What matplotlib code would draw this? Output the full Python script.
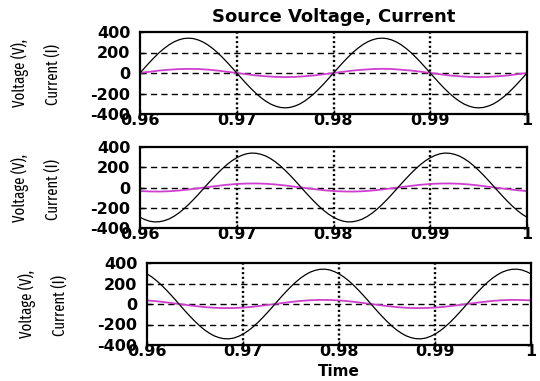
import numpy as np
import matplotlib
matplotlib.use("Agg")
import matplotlib.pyplot as plt

# ---------------- data ----------------
time_v = [round(0.96 + i * 0.0005, 4) for i in range(81)]
time_i = [round(0.96 + i * 0.001, 3) for i in range(41)]

volt_a = [0, 53, 105, 154, 200, 240, 275, 303, 323, 336, 340,
          336, 323, 303, 275, 240, 200, 154, 105, 53, 0,
          -53, -105, -154, -200, -240, -275, -303, -323, -336, -340,
          -336, -323, -303, -275, -240, -200, -154, -105, -53, 0,
          53, 105, 154, 200, 240, 275, 303, 323, 336, 340,
          336, 323, 303, 275, 240, 200, 154, 105, 53, 0,
          -53, -105, -154, -200, -240, -275, -303, -323, -336, -340,
          -336, -323, -303, -275, -240, -200, -154, -105, -53, 0]

volt_b = [-294, -317, -333, -340, -338, -328, -311, -285, -253, -214, -170,
          -122, -71, -18, 36, 88, 138, 185, 227, 264, 294,
          317, 333, 340, 338, 328, 311, 285, 253, 214, 170,
          122, 71, 18, -36, -88, -138, -185, -227, -264, -294,
          -317, -333, -340, -338, -328, -311, -285, -253, -214, -170,
          -122, -71, -18, 36, 88, 138, 185, 227, 264, 294,
          317, 333, 340, 338, 328, 311, 285, 253, 214, 170,
          122, 71, 18, -36, -88, -138, -185, -227, -264, -294]

volt_c = [294, 264, 227, 185, 138, 88, 36, -18, -71, -122, -170,
          -214, -253, -285, -311, -328, -338, -340, -333, -317, -294,
          -264, -227, -185, -138, -88, -36, 18, 71, 122, 170,
          214, 253, 285, 311, 328, 338, 340, 333, 317, 294,
          264, 227, 185, 138, 88, 36, -18, -71, -122, -170,
          -214, -253, -285, -311, -328, -338, -340, -333, -317, -294,
          -264, -227, -185, -138, -88, -36, 18, 71, 122, 170,
          214, 253, 285, 311, 328, 338, 340, 333, 317, 294]

curr_a = [2, 12, 24, 32, 38, 40, 39, 33, 24, 12, 0,
          -12, -24, -32, -38, -40, -38, -32, -24, -12, 0,
          12, 24, 32, 38, 41, 39, 32, 24, 13, 0,
          -12, -24, -32, -38, -40, -38, -32, -24, -12, 0]

curr_b = [-35, -39, -40, -37, -30, -20, -8, 4, 16, 27, 35,
          39, 40, 37, 30, 20, 8, -4, -16, -27, -35,
          -39, -40, -37, -30, -20, -8, 4, 16, 27, 35,
          39, 40, 37, 30, 20, 8, -4, -16, -27, -35]

curr_c = [35, 27, 16, 4, -8, -20, -30, -37, -40, -39, -35,
          -27, -16, -4, 8, 20, 30, 37, 40, 39, 35,
          27, 16, 4, -8, -20, -30, -37, -40, -39, -35,
          -27, -16, -4, 8, 20, 30, 37, 40, 39, 35]

x_ticks = [0.96, 0.97, 0.98, 0.99, 1.0]
x_tick_labels = ["0.96", "0.97", "0.98", "0.99", "1"]
y_ticks = [-400, -200, 0, 200, 400]
y_tick_labels = ["-400", "-200", "0", "200", "400"]

title = "Source Voltage, Current"
ylabel_lines = ["Voltage (V),", "Current (I)"]
xlabel = "Time"

# ---------------- figure ----------------
plt.rcParams['font.family'] = ['DejaVu Sans']
W, H = 540, 381
fig = plt.figure(figsize=(W / 100, H / 100), dpi=100)

# axes boxes in pixels: left, top, right, bottom
boxes = [
    (140, 32, 527, 114),
    (140, 147, 527, 228),
    (147, 263, 531, 345),
]
volts = [volt_a, volt_b, volt_c]
currs = [curr_a, curr_b, curr_c]
narrow = ['Fira Sans Extra Condensed', 'Archivo Narrow', 'Liberation Sans', 'DejaVu Sans']

for k, (box, v, c) in enumerate(zip(boxes, volts, currs)):
    l, t, r, b = box
    ax = fig.add_axes([l / W, 1 - b / H, (r - l) / W, (b - t) / H])
    ax.set_xlim(0.96, 1.0)
    ax.set_ylim(-400, 400)
    for yg in [-200, 0, 200]:
        ax.axhline(yg, color='black', lw=1.0, ls=(0, (4.5, 3)), zorder=1)
    for xg in [0.97, 0.98, 0.99]:
        ax.axvline(xg, color='black', lw=1.7, ls=(0, (0.9, 1.1)), zorder=1)
    ax.plot(time_v, v, color='black', lw=0.9, zorder=3)
    ax.plot(time_i, c, color='#cf3fcf', lw=1.3, zorder=2)
    ax.set_xticks(x_ticks)
    ax.set_xticklabels(x_tick_labels, fontsize=11.5, fontweight='bold')
    ax.set_yticks(y_ticks)
    ax.set_yticklabels(y_tick_labels, fontsize=11.5, fontweight='bold')
    ax.tick_params(axis='both', direction='in', length=3, width=1)
    ax.tick_params(axis='x', pad=-1)
    ax.tick_params(axis='y', pad=7)
    for s in ax.spines.values():
        s.set_linewidth(1.6)
    yc = 1 - (t + b) / 2 / H
    fig.text((l - 120) / W, yc, ylabel_lines[0], rotation=90, ha='center',
             va='center', fontsize=11.5, family=narrow)
    fig.text((l - 87) / W, yc - 2 / H, ylabel_lines[1], rotation=90, ha='center',
             va='center', fontsize=11.5, family=narrow)
    if k == 0:
        fig.text((l + r) / 2 / W, 1 - 17.5 / H, title, ha='center', va='center',
                 fontsize=13, fontweight='bold')
    if k == 2:
        fig.text((l + r) / 2 / W, 1 - 372 / H, xlabel, ha='center', va='center',
                 fontsize=11, fontweight='bold')

fig.savefig("out.png", dpi=100)
